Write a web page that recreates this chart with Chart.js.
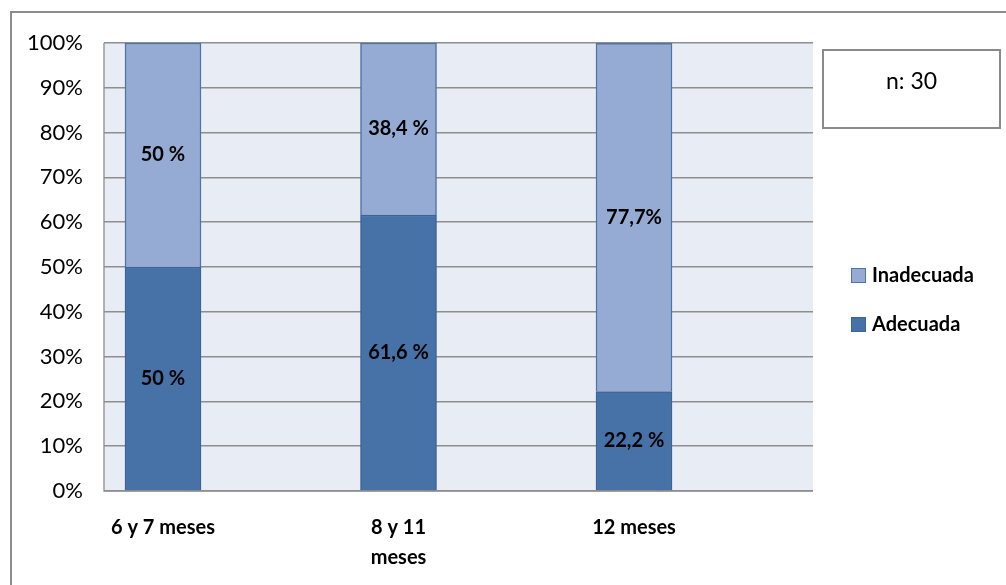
<!DOCTYPE html>
<html>
<head>
<meta charset="utf-8">
<script src="https://cdn.jsdelivr.net/npm/chart.js@4/dist/chart.umd.min.js"></script>
<style>
  html, body { margin: 0; padding: 0; background: #fff; }
  #wrap { position: relative; width: 1006px; height: 585px; overflow: hidden; font-family: Lato, "Open Sans", sans-serif; }
  #frame { position: absolute; left: 10px; top: 11px; width: 1000px; height: 600px; border-top: 2px solid #8c8c8c; border-left: 2px solid #8c8c8c; }
  #nbox { position: absolute; left: 822px; top: 49px; width: 175px; border: 2px solid #8a8a8a; text-align: center; font-size: 23px; padding-top: 15px; height: 61px; color: #000; }
  .leg { position: absolute; left: 851px; font-size: 20px; font-weight: bold; color: #000; }
  .leg span { display: inline-block; width: 13px; height: 13px; margin-right: 6px; vertical-align: -1px; }
</style>
</head>
<body>
<div id="wrap">
  <div id="frame"></div>
  <canvas id="chart" width="1006" height="585" style="position:absolute;left:0;top:0"></canvas>
  <div id="nbox">n: 30</div>
  <div class="leg" style="top:262px"><span style="background:#96abd3;border:1px solid #4f73a3"></span>Inadecuada</div>
  <div class="leg" style="top:311px"><span style="background:#4672a8;border:1px solid #3c6496"></span>Adecuada</div>
</div>
<script>
const categories = ['6 y 7 meses', ['8 y 11', 'meses'], '12 meses'];
const adecuada = [50, 61.6, 22.2];
const inadecuada = [50, 38.4, 77.7];
const adecuadaLabels = ['50 %', '61,6 %', '22,2 %'];
const inadecuadaLabels = ['50 %', '38,4 %', '77,7%'];
const yTicks = [0, 10, 20, 30, 40, 50, 60, 70, 80, 90, 100];

// fondo del área de trazado
const plotBg = {
    id: 'plotBg',
    beforeDraw(chart) {
        const a = chart.chartArea;
        const ctx = chart.ctx;
        ctx.save();
        ctx.fillStyle = '#e8edf5';
        ctx.fillRect(a.left, a.top, a.right - a.left, a.bottom - a.top);
        ctx.strokeStyle = '#9a9a9a';
        ctx.lineWidth = 1.5;
        ctx.beginPath();
        ctx.moveTo(a.left, a.top);
        ctx.lineTo(a.left, a.bottom);
        ctx.lineTo(a.right, a.bottom);
        ctx.stroke();
        ctx.restore();
    }
};

// etiquetas centradas en cada segmento
const barLabels = {
    id: 'barLabels',
    afterDatasetsDraw(chart) {
        const ctx = chart.ctx;
        ctx.save();
        ctx.font = 'bold 20px Lato, "Open Sans", sans-serif';
        ctx.fillStyle = '#000';
        ctx.textAlign = 'center';
        ctx.textBaseline = 'middle';
        chart.data.datasets.forEach((ds, i) => {
            chart.getDatasetMeta(i).data.forEach((el, j) => {
                const p = el.getCenterPoint();
                ctx.fillText(ds.labelsText[j], p.x, p.y);
            });
        });
        ctx.restore();
    }
};

new Chart(document.getElementById('chart'), {
    type: 'bar',
    data: {
        datasets: [{
            label: 'Adecuada',
            data: adecuada.map((v, i) => ({ x: i, y: v })),
            labelsText: adecuadaLabels,
            backgroundColor: '#4672a8',
            borderColor: '#3c6496',
            borderWidth: 1.5,
            barThickness: 76
        }, {
            label: 'Inadecuada',
            data: inadecuada.map((v, i) => ({ x: i, y: v })),
            labelsText: inadecuadaLabels,
            backgroundColor: '#96abd3',
            borderColor: '#4f73a3',
            borderWidth: 1.5,
            barThickness: 76
        }]
    },
    options: {
        responsive: false,
        animation: false,
        layout: { padding: { left: 10, top: 43, right: 193, bottom: 0 } },
        scales: {
            x: {
                type: 'linear',
                stacked: true,
                offset: false,
                min: -0.2505,
                max: 2.76,
                grid: { display: false, drawTicks: false, offset: false },
                border: { display: false },
                afterBuildTicks(scale) {
                    scale.ticks = categories.map((c, i) => ({ value: i }));
                },
                afterFit(scale) { scale.height = 94; },
                ticks: {
                    padding: 22,
                    color: '#000',
                    font: { family: 'Lato, "Open Sans", sans-serif', size: 20, weight: 'bold', lineHeight: 1.5 },
                    callback: v => categories[v]
                }
            },
            y: {
                stacked: true,
                min: 0,
                max: 100,
                grid: { color: '#8e8e8e', lineWidth: 1.5, drawTicks: false },
                border: { display: false },
                afterBuildTicks(scale) {
                    scale.ticks = yTicks.map(v => ({ value: v }));
                },
                afterFit(scale) { scale.width = 94; },
                ticks: {
                    padding: 21,
                    color: '#000',
                    font: { family: 'Lato, "Open Sans", sans-serif', size: 22 },
                    callback: v => v + '%'
                }
            }
        },
        plugins: {
            legend: { display: false },
            tooltip: { enabled: false }
        }
    },
    plugins: [plotBg, barLabels]
});
</script>
</body>
</html>
